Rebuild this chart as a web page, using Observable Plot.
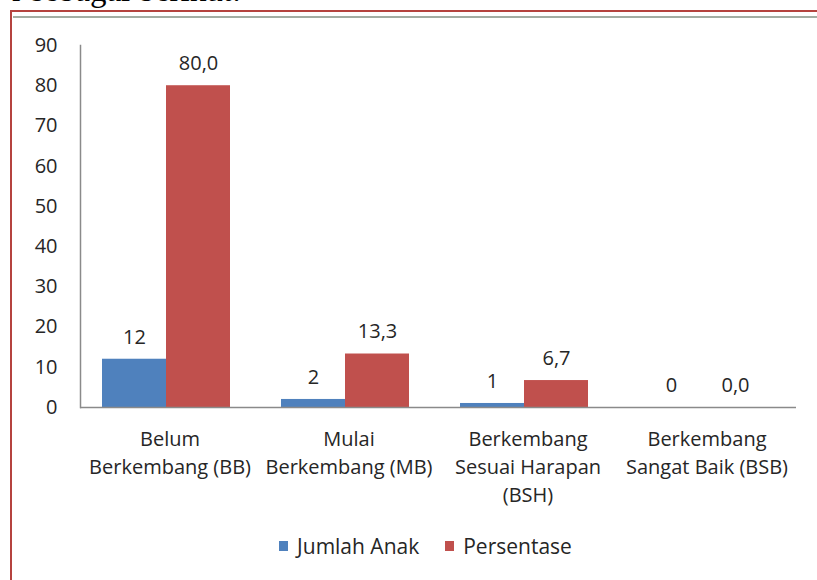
<!DOCTYPE html>
<html>
<head>
<meta charset="utf-8">
<script src="https://cdn.jsdelivr.net/npm/d3@7"></script>
<script src="https://cdn.jsdelivr.net/npm/@observablehq/plot@0.6"></script>
<style>
  html, body { margin: 0; padding: 0; background: #fff; }
  #wrap { position: relative; width: 817px; height: 580px; overflow: hidden; background: #fff; font-family: "Open Sans", sans-serif; }
  #intro { position: absolute; left: 12px; top: -30px; font-family: "Liberation Serif", serif; font-size: 33px; color: #000; white-space: nowrap; line-height: 40px; }
  #border1 { position: absolute; left: 10px; top: 10px; width: 900px; height: 700px; border-left: 2px solid #b5433f; border-top: 2px solid #b5433f; background: #fff; }
  #border2 { position: absolute; left: 13px; top: 16px; width: 900px; height: 2px; background: #a3ada3; }
  #chart { position: absolute; left: 0; top: 0; }
  #legend { position: absolute; top: 532px; left: 0; width: 817px; display: flex; justify-content: center; font-size: 21px; color: #262626; padding-left: 34px; box-sizing: border-box; }
  .item { display: flex; align-items: center; margin: 0 13px; }
  .sw { width: 9px; height: 10px; margin-right: 9px; }
</style>
</head>
<body>
<div id="wrap">
  <div id="border1"></div>
  <div id="intro">r sebagai berikut:</div>
  <div id="border2"></div>
  <div id="chart"></div>
  <div id="legend"></div>
</div>
<script>
const categories = ["Belum\nBerkembang (BB)", "Mulai\nBerkembang (MB)", "Berkembang\nSesuai Harapan\n(BSH)", "Berkembang\nSangat Baik (BSB)"];
const series = ["Jumlah Anak", "Persentase"];
const jumlahAnak = [12, 2, 1, 0];
const persentase = [80.0, 13.3, 6.7, 0.0];
const yTicks = [0, 10, 20, 30, 40, 50, 60, 70, 80, 90];
const colors = ["#4f81bd", "#c0504d"];

const data = [];
categories.forEach((c, i) => {
  data.push({cat: c, series: series[0], value: jumlahAnak[i], label: String(jumlahAnak[i])});
  data.push({cat: c, series: series[1], value: persentase[i], label: persentase[i].toFixed(1).replace(".", ",")});
});

const chart = Plot.plot({
  width: 817,
  height: 520,
  marginLeft: 78,
  marginRight: 20,
  marginTop: 45,
  marginBottom: 113,
  style: {fontFamily: "'Open Sans', sans-serif", fontSize: "20px", color: "#262626", background: "transparent"},
  fx: {domain: categories, padding: 0, axis: null},
  x: {domain: series, paddingInner: 0, paddingOuter: 0.39, align: 0.44, axis: null},
  y: {domain: [0, 90], axis: null},
  color: {domain: series, range: colors},
  marks: [
    Plot.barY(data, {fx: "cat", x: "series", y: "value", fill: "series"}),
    Plot.text(data, {fx: "cat", x: "series", y: "value", text: "label", dy: -22, fontSize: 20, fill: "#262626"}),
    Plot.ruleY([0], {stroke: "#8a8a8a", strokeWidth: 1.5}),
    Plot.frame({anchor: "left", fx: () => categories[0], stroke: "#8a8a8a", strokeWidth: 1.5}),
    Plot.axisY({ticks: yTicks, tickSize: 0, tickPadding: 23, label: null, fontSize: 20, fill: "#262626"}),
    Plot.axisFx({anchor: "bottom", tickSize: 0, tickPadding: 19, label: null, fontSize: 20, lineHeight: 1.4, fill: "#262626"})
  ]
});
document.getElementById("chart").appendChild(chart);

const legend = document.getElementById("legend");
series.forEach((s, i) => {
  const item = document.createElement("div");
  item.className = "item";
  const sw = document.createElement("span");
  sw.className = "sw";
  sw.style.background = colors[i];
  const t = document.createElement("span");
  t.textContent = s;
  item.appendChild(sw);
  item.appendChild(t);
  legend.appendChild(item);
});
</script>
</body>
</html>
